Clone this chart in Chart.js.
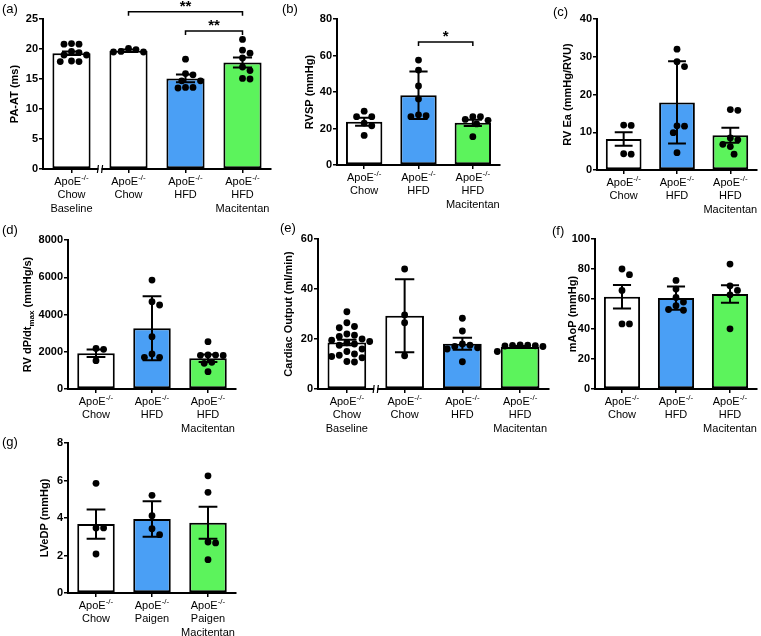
<!DOCTYPE html>
<html><head><meta charset="utf-8">
<script src="https://cdn.jsdelivr.net/npm/chart.js@4/dist/chart.umd.min.js"></script>
<style>
html,body{margin:0;padding:0;background:#fff;width:761px;height:636px;overflow:hidden;position:relative;}
canvas{position:absolute;}
</style></head><body>
<script>
// ---------- DATA ----------
const labelsA = [["ApoE-/-","Chow","Baseline"],["ApoE-/-","Chow"],["ApoE-/-","HFD"],["ApoE-/-","HFD","Macitentan"]];
const meansA = [19.3, 19.7, 15.1, 17.75];
const errA = [0.3, 0.2, 0.65, 0.85];
const pointsA = [[20.9,20.8,20.8,19.6,19.4,19.0,19.0,18.0,17.9,17.9],[20.1,19.9,19.6,19.5,19.5],[18.3,15.9,15.7,14.7,14.7,13.6,13.5,13.6],[21.6,19.8,19.3,18.5,17.0,16.4,15.1,15.0]];
const ticksA = [0,5,10,15,20,25];

const labelsB = [["ApoE-/-","Chow"],["ApoE-/-","HFD"],["ApoE-/-","HFD","Macitentan"]];
const meansB = [23.7, 38.2, 23.1];
const errB = [2.2, 13.0, 1.7];
const pointsB = [[29.5,26.5,26.5,23,21.5,16.2],[57.5,52,43.3,36.2,27.5,27,26.5],[26.5,26.5,25,24.5,22.5,15.5]];
const ticksB = [0,20,40,60,80];

const labelsC = [["ApoE-/-","Chow"],["ApoE-/-","HFD"],["ApoE-/-","HFD","Macitentan"]];
const meansC = [8.2, 17.9, 9.2];
const errC = [1.8, 10.9, 2.0];
const pointsC = [[11.9,11.8,4.3,4.2],[32,28.7,27.4,11.7,11.6,9.9,4.6],[16.0,15.8,8.5,8.0,6.8,6.2,4.2]];
const ticksC = [0,10,20,30,40];

const labelsD = [["ApoE-/-","Chow"],["ApoE-/-","HFD"],["ApoE-/-","HFD","Macitentan"]];
const meansD = [1915, 3260, 1650];
const errD = [200, 1720, 200];
const pointsD = [[2180,2130,1520],[5850,4690,4510,2810,1880,1700,1700],[2540,1830,1820,1810,1800,1430,1380,930]];
const ticksD = [0,2000,4000,6000,8000];

const labelsE = [["ApoE-/-","Chow","Baseline"],["ApoE-/-","Chow"],["ApoE-/-","HFD"],["ApoE-/-","HFD","Macitentan"]];
const meansE = [18.6, 29.3, 18.1, 16.8];
const errE = [1.1, 14.6, 2.4, 0.4];
const pointsE = [[30.9,26.5,25,24.5,22,21.5,21,20,19.5,19,18.5,18,17.5,16,15,14,13.5,13,12.5,11,10.8],[48,29.6,26.5,13.3],[28.3,23.2,18.0,17.5,17.0,16.5,16.0,10.9],[17.6,17.5,17.4,17.3,17.2,17.0,15.0]];
const ticksE = [0,20,40,60];

const labelsF = [["ApoE-/-","Chow"],["ApoE-/-","HFD"],["ApoE-/-","HFD","Macitentan"]];
const meansF = [61.5, 60.6, 63.3];
const errF = [7.8, 7.8, 5.8];
const pointsF = [[80,76.2,65.7,43.4,43.4],[72.4,66.6,61,58,55.5,52.5,53],[83.3,68.8,65.7,62.8,40.1]];
const ticksF = [0,20,40,60,80,100];

const labelsG = [["ApoE-/-","Chow"],["ApoE-/-","Paigen"],["ApoE-/-","Paigen","Macitentan"]];
const meansG = [3.68, 3.95, 3.75];
const errG = [0.78, 0.95, 0.85];
const pointsG = [[5.85,3.47,3.47,2.08],[5.21,4.12,3.43,3.11],[6.25,5.37,2.72,2.67,1.78]];
const ticksG = [0,2,4,6,8];

const WHITE = '#ffffff', BLUE = '#4a9ff5', GREEN = '#5cf35c';
const colors3 = [WHITE, BLUE, GREEN];
const colors4 = [WHITE, WHITE, BLUE, GREEN];

// ---------- LAYOUT ----------
const FONT = '"Liberation Sans", Arial, Helvetica, sans-serif';
Chart.defaults.font.family = FONT;

const panels = [
  {letter:'(a)', lx:2, ly:9, title:'PA-AT (ms)', tx:15, labels:labelsA, means:meansA, err:errA, points:pointsA, ticks:ticksA, colors:colors4,
   cx:0, cy:0, cw:275, ch:215, left:43, right:274, top:19, bottom:169, brk:true,
   brackets:[{from:1,to:3,y:26.2,text:'**'},{from:2,to:3,y:23.0,text:'**'}]},
  {letter:'(b)', lx:282, ly:9, title:'RVSP (mmHg)', tx:310, labels:labelsB, means:meansB, err:errB, points:pointsB, ticks:ticksB, colors:colors3,
   cx:275, cy:0, cw:240, ch:215, left:337, right:500, top:19, bottom:165,
   brackets:[{from:1,to:2,y:67.4,text:'*'}]},
  {letter:'(c)', lx:553, ly:12, title:'RV Ea (mmHg/RVU)', tx:568, labels:labelsC, means:meansC, err:errC, points:pointsC, ticks:ticksC, colors:colors3,
   cx:540, cy:0, cw:221, ch:215, left:597, right:759, top:19, bottom:170},
  {letter:'(d)', lx:2, ly:230, title:'RV dP/dt_{max} (mmHg/s)', tx:28, labels:labelsD, means:meansD, err:errD, points:pointsD, ticks:ticksD, colors:colors3,
   cx:0, cy:215, cw:255, ch:225, left:68, right:236, top:240, bottom:389},
  {letter:'(e)', lx:280, ly:228, title:'Cardiac Output (ml/min)', tx:289, labels:labelsE, means:meansE, err:errE, points:pointsE, ticks:ticksE, colors:colors4,
   cx:270, cy:215, cw:285, ch:225, left:318, right:549, top:239, bottom:389, brk:true},
  {letter:'(f)', lx:552, ly:231, title:'mAoP (mmHg)', tx:573, labels:labelsF, means:meansF, err:errF, points:pointsF, ticks:ticksF, colors:colors3,
   cx:545, cy:215, cw:216, ch:225, left:595, right:760, top:239, bottom:389},
  {letter:'(g)', lx:2, ly:442, title:'LVeDP (mmHg)', tx:45, labels:labelsG, means:meansG, err:errG, points:pointsG, ticks:ticksG, colors:colors3,
   cx:0, cy:425, cw:255, ch:211, left:68, right:236, top:443, bottom:593}
];

// deterministic beeswarm offsets (pixels) so dots do not overlap
function swarm(vals, pxPerY, step) {
  const order = vals.map((v,i)=>i).sort((a,b)=>vals[b]-vals[a]);
  const placed = []; const out = new Array(vals.length).fill(0);
  order.forEach(i => {
    const py = vals[i]*pxPerY;
    for (let k=0; k<60; k++) {
      const off = k===0 ? 0 : (k%2 ? 1 : -1) * Math.ceil(k/2) * step/2;
      if (placed.every(q => Math.hypot(q.x-off, q.y-py) >= step)) { placed.push({x:off, y:py}); out[i] = off; break; }
    }
  });
  return out;
}

function drawRotTitle(ctx, text, x, yc) {
  const segs = []; const re = /_\{([^}]*)\}/g; let last = 0, m;
  while ((m = re.exec(text))) { if (m.index > last) segs.push({t:text.slice(last, m.index)}); segs.push({t:m[1], sub:true}); last = re.lastIndex; }
  if (last < text.length) segs.push({t:text.slice(last)});
  const main = 'bold 11px ' + FONT, small = 'bold 8px ' + FONT;
  let total = 0;
  segs.forEach(s => { ctx.font = s.sub ? small : main; s.w = ctx.measureText(s.t).width; total += s.w; });
  ctx.save();
  ctx.translate(x, yc); ctx.rotate(-Math.PI/2);
  ctx.fillStyle = '#000'; ctx.textBaseline = 'middle'; ctx.textAlign = 'left';
  let px = -total/2;
  segs.forEach(s => { ctx.font = s.sub ? small : main; ctx.fillText(s.t, px, s.sub ? 3.5 : 0); px += s.w; });
  ctx.restore();
}

function makePlugin(p) {
  return {
    id: 'panelExtras',
    afterDatasetDraw(chart, args) {
      if (args.index !== 0) return;
      const ctx = chart.ctx, ys = chart.scales.y, meta = chart.getDatasetMeta(0);
      ctx.save(); ctx.strokeStyle = '#000'; ctx.lineWidth = 2;
      p.err.forEach((e, i) => {
        const bar = meta.data[i]; const cx = bar.x; const cap = bar.width * 0.25;
        const yt = ys.getPixelForValue(p.means[i] + e), yb = ys.getPixelForValue(p.means[i] - e);
        ctx.beginPath();
        ctx.moveTo(cx, yt); ctx.lineTo(cx, yb);
        ctx.moveTo(cx - cap, yt); ctx.lineTo(cx + cap, yt);
        ctx.moveTo(cx - cap, yb); ctx.lineTo(cx + cap, yb);
        ctx.stroke();
      });
      ctx.restore();
    },
    afterDraw(chart) {
      const ctx = chart.ctx, xs = chart.scales.x, ys = chart.scales.y, ca = chart.chartArea;
      ctx.save();
      ctx.fillStyle = '#000'; ctx.strokeStyle = '#000';
      p.labels.forEach((lines, i) => {
        const cx = xs.getPixelForValue(i);
        lines.forEach((ln, j) => {
          const y = ca.bottom + 12.5 + j * 13.5;
          ctx.textBaseline = 'middle';
          if (ln.endsWith('-/-')) {
            const base = ln.slice(0, -3);
            ctx.font = '11px ' + FONT; const w1 = ctx.measureText(base).width;
            ctx.font = '8px ' + FONT; const w2 = ctx.measureText('-/-').width;
            const sx = cx - (w1 + w2) / 2;
            ctx.textAlign = 'left';
            ctx.font = '11px ' + FONT; ctx.fillText(base, sx, y);
            ctx.font = '8px ' + FONT; ctx.fillText('-/-', sx + w1, y - 4);
          } else {
            ctx.textAlign = 'center'; ctx.font = '11px ' + FONT; ctx.fillText(ln, cx, y);
          }
        });
      });
      drawRotTitle(ctx, p.title, p.tx - p.cx, (ca.top + ca.bottom) / 2);
      ctx.font = '13px ' + FONT; ctx.textAlign = 'left'; ctx.textBaseline = 'middle';
      ctx.fillText(p.letter, p.lx - p.cx, p.ly - p.cy);
      (p.brackets || []).forEach(b => {
        const x1 = xs.getPixelForValue(b.from), x2 = xs.getPixelForValue(b.to), y = ys.getPixelForValue(b.y);
        ctx.lineWidth = 1.5;
        ctx.beginPath();
        ctx.moveTo(x1, y + 4); ctx.lineTo(x1, y); ctx.lineTo(x2, y); ctx.lineTo(x2, y + 4);
        ctx.stroke();
        ctx.font = 'bold 15px ' + FONT; ctx.textAlign = 'center'; ctx.textBaseline = 'alphabetic';
        ctx.fillText(b.text, (x1 + x2) / 2, y - 1);
      });
      if (p.brk) {
        const bx = (xs.getPixelForValue(0) + xs.getPixelForValue(1)) / 2, by = ca.bottom;
        ctx.fillStyle = '#fff'; ctx.fillRect(bx - 1.5, by - 2, 3, 3);
        ctx.lineWidth = 1.2;
        ctx.beginPath();
        ctx.moveTo(bx - 2.6, by + 4); ctx.lineTo(bx - 1.6, by - 4);
        ctx.moveTo(bx + 1.6, by + 4); ctx.lineTo(bx + 2.6, by - 4);
        ctx.stroke();
      }
      ctx.restore();
    }
  };
}

function makeChart(p) {
  const cv = document.createElement('canvas');
  cv.width = p.cw; cv.height = p.ch;
  cv.style.left = p.cx + 'px'; cv.style.top = p.cy + 'px';
  cv.style.width = p.cw + 'px'; cv.style.height = p.ch + 'px';
  document.body.appendChild(cv);
  const n = p.labels.length;
  const yMax = p.ticks[p.ticks.length - 1];
  const pxPerY = (p.bottom - p.top) / yMax;
  const catW = (p.right - p.left) / n;
  const scatter = [];
  p.points.forEach((vals, g) => {
    const offs = swarm(vals, pxPerY, 7.6);
    vals.forEach((v, k) => scatter.push({x: g + offs[k] / catW, y: v}));
  });
  const bars = p.means.map((m, i) => ({x: i, y: m}));
  new Chart(cv, {
    type: 'bar',
    data: {
      datasets: [
        {type:'bar', data:bars, backgroundColor:p.colors, borderColor:'#000', borderWidth:2, borderSkipped:false,
         barPercentage:0.67, categoryPercentage:1, grouped:false, order:1},
        {type:'scatter', data:scatter, pointRadius:3.4, pointBackgroundColor:'#000', pointBorderWidth:0, order:0}
      ]
    },
    options: {
      responsive:false, maintainAspectRatio:false, animation:false, events:[],
      layout:{padding:{left:0, bottom:0, top:p.top - p.cy, right:p.cx + p.cw - p.right}},
      plugins:{legend:{display:false}, tooltip:{enabled:false}, title:{display:false}},
      scales:{
        x:{type:'linear', offset:false, min:-0.5, max:n - 0.5,
           afterBuildTicks:s => { s.ticks = p.labels.map((_, i) => ({value:i})); },
           afterFit:s => { s.height = p.cy + p.ch - p.bottom; },
           border:{display:true, color:'#000', width:2},
           grid:{offset:false, drawOnChartArea:false, drawTicks:true, tickLength:4, color:'#000', lineWidth:1.5},
           ticks:{display:false}},
        y:{type:'linear', min:0, max:yMax,
           afterBuildTicks:s => { s.ticks = p.ticks.map(v => ({value:v})); },
           afterFit:s => { s.width = p.left - p.cx; },
           border:{display:true, color:'#000', width:2},
           grid:{drawOnChartArea:false, drawTicks:true, tickLength:4, color:'#000', lineWidth:1.5},
           ticks:{color:'#000', padding:1, font:{family:FONT, size:11, weight:'bold'}, callback:v => String(v)}}
      }
    },
    plugins:[makePlugin(p)]
  });
}

panels.forEach(makeChart);
</script>
</body></html>
